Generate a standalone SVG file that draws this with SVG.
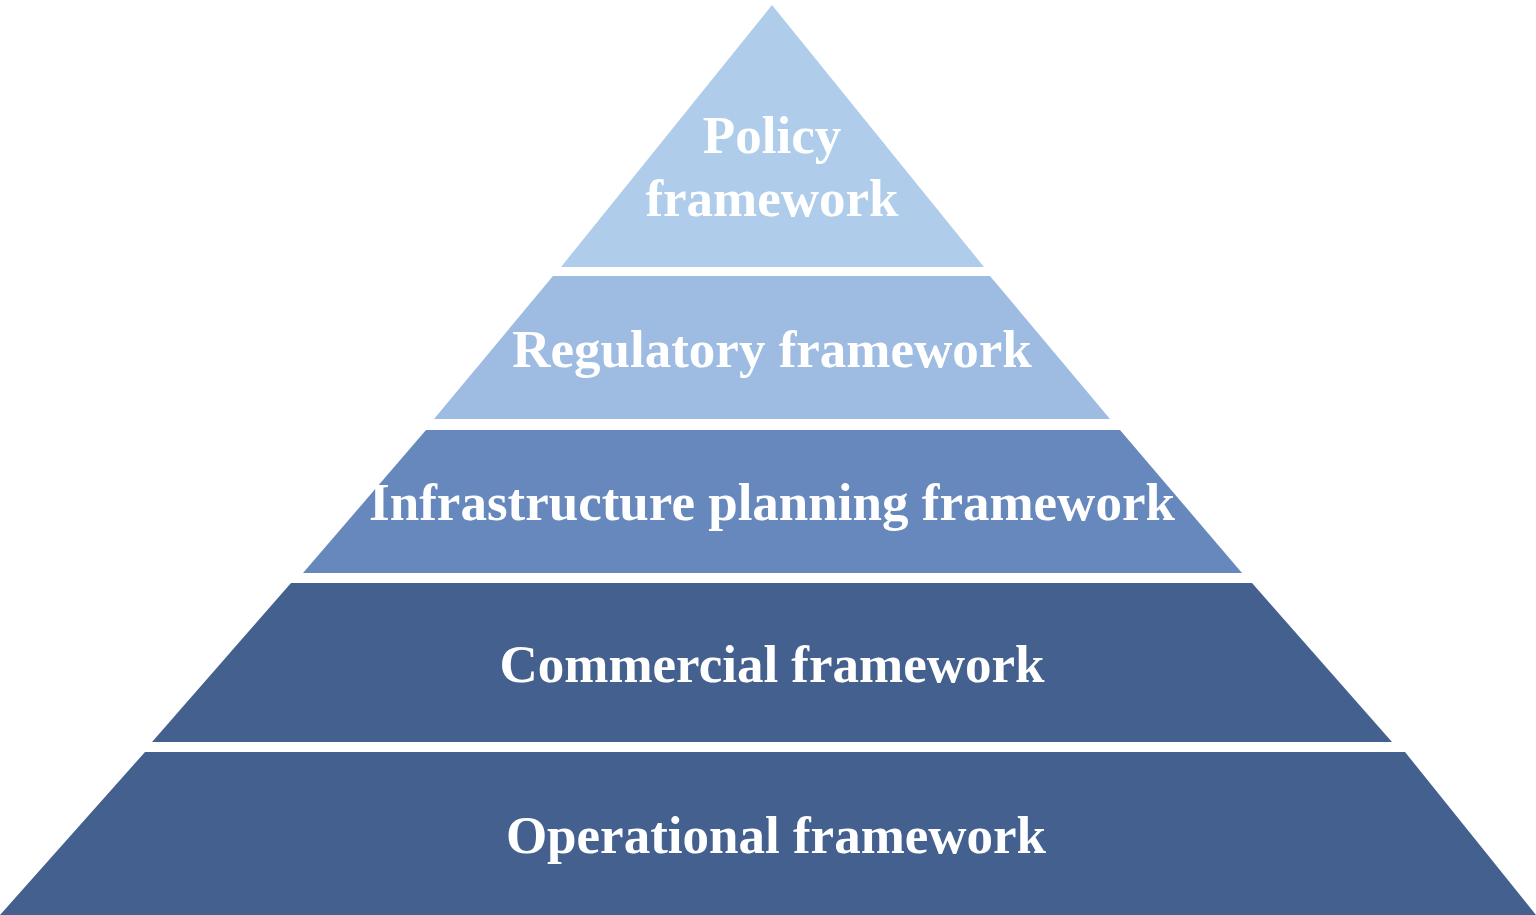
<svg xmlns="http://www.w3.org/2000/svg" width="1536" height="915" viewBox="0 0 1536 915">
<style>
.t{font-family:"Liberation Serif","Times New Roman",serif;font-weight:bold;font-size:53px;fill:#ffffff;text-anchor:middle}
</style>
<rect width="1536" height="915" fill="#ffffff"/>
<g id="tier1">
<polygon points="772,5 984,267 561,267" fill="#AFCDEA"/>
<text class="t" x="772" y="153">Policy</text>
<text class="t" x="772" y="216">framework</text>
</g>
<g id="tier2">
<polygon points="553,276 990,276 1110,419 434,419" fill="#9EBBE1"/>
<text class="t" x="772" y="367">Regulatory framework</text>
</g>
<g id="tier3">
<polygon points="426,430 1120,430 1242,573 303,573" fill="#6788BC"/>
<text class="t" x="772" y="520">Infrastructure planning framework</text>
</g>
<g id="tier4">
<polygon points="291,583 1252,583 1392,742 152,742" fill="#44608F"/>
<text class="t" x="772" y="682">Commercial framework</text>
</g>
<g id="tier5">
<polygon points="145,752 1405,752 1536,915 0,915" fill="#44608F"/>
<text class="t" x="776" y="853">Operational framework</text>
</g>
<g id="connectors"/>
</svg>
